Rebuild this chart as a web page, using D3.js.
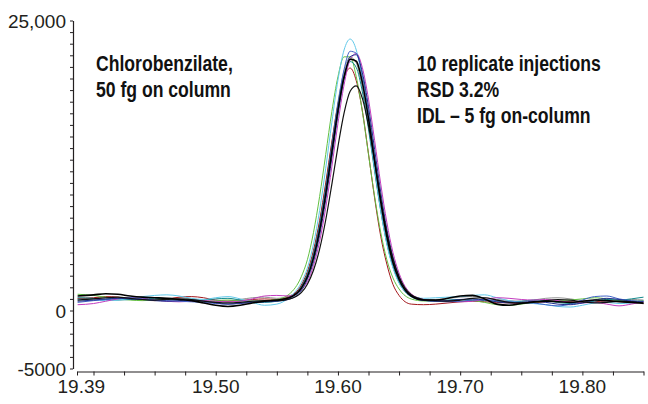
<!DOCTYPE html>
<html>
<head>
<meta charset="utf-8">
<script src="https://cdn.jsdelivr.net/npm/d3@7"></script>
<style>
  body { margin: 0; background: #fff; }
  .axis text { font-family: "Liberation Sans", Arial, sans-serif; font-size: 19px; fill: #231f20; }
  .note { font-family: "Liberation Sans", Arial, sans-serif; font-weight: bold; font-size: 22px; fill: #111; }
</style>
</head>
<body>
<div id="chart"></div>
<script>
// retention time (min), shared by all 10 injections
const times = [19.387, 19.40, 19.41, 19.42, 19.43, 19.44, 19.45, 19.46, 19.47, 19.48, 19.49, 19.50, 19.51, 19.52, 19.53, 19.54, 19.55,
  19.56, 19.57,
  19.575, 19.58, 19.585, 19.59, 19.595, 19.60, 19.605, 19.61, 19.615, 19.62, 19.625, 19.63, 19.635, 19.64, 19.645, 19.65,
  19.66, 19.67,
  19.68, 19.69, 19.70, 19.71, 19.72, 19.73, 19.74, 19.75, 19.76, 19.77, 19.78, 19.79, 19.80, 19.81, 19.82, 19.83, 19.84, 19.85];

// abundance per injection
const gray = [1000, 1050, 1100, 1050, 950, 900, 950, 1050, 1100, 1000, 850, 750, 800, 950, 1100, 1150, 1050,
  1250, 2130,
  3189, 4953, 7515, 10770, 14466, 17973, 20640, 21858, 21333, 19191, 15915, 12219, 8733, 5877, 3819, 2454,
  1240, 950,
  950, 1050, 1150, 1200, 1100, 950, 850, 800, 900, 1050, 1100, 1000, 850, 750, 800, 900, 950, 900];
const darkred = [1050, 1100, 1200, 1150, 1000, 900, 850, 950, 1150, 1200, 1100, 900, 800, 850, 950, 1000, 950,
  1180, 2200,
  3360, 5200, 7760, 11000, 14520, 17760, 20060, 20900, 19800, 17200, 13500, 9700, 6400, 4000, 2250, 1300,
  550, 500,
  550, 650, 750, 800, 750, 700, 650, 600, 650, 750, 800, 750, 700, 750, 850, 800, 700, 650];
const green = [1400, 1300, 1150, 1000, 900, 850, 900, 950, 900, 850, 800, 850, 900, 850, 800, 850, 950,
  1395, 2910,
  4377, 6730, 9825, 13450, 17139, 20150, 21867, 21867, 20150, 17139, 13450, 9825, 6730, 4377, 2808, 1854,
  990, 820,
  800, 850, 900, 850, 700, 500, 450, 550, 700, 800, 850, 900, 1000, 1100, 1000, 850, 800, 850];
const teal = [1100, 1050, 950, 900, 950, 1000, 1050, 1000, 900, 850, 900, 1000, 1050, 900, 750, 700, 800,
  1100, 2050,
  3145, 4876, 7389, 10582, 14208, 17648, 20264, 21459, 20944, 18843, 15629, 12003, 8584, 5782, 3763, 2424,
  1180, 890,
  850, 900, 950, 900, 850, 800, 750, 800, 900, 850, 700, 600, 650, 800, 950, 900, 1000, 1150];
const cyan = [950, 900, 850, 900, 1050, 1200, 1300, 1350, 1250, 1050, 950, 1100, 1200, 1000, 700, 450, 550,
  1115, 2410,
  3668, 5738, 8618, 12263, 16223, 19868, 22455, 23400, 22455, 19868, 16223, 12263, 8618, 5738, 3668, 2363,
  1315, 1050,
  1100, 1150, 1200, 1300, 1350, 1100, 850, 700, 600, 500, 350, 300, 450, 650, 700, 600, 650, 800];
const magenta = [500, 600, 800, 1000, 1100, 1050, 900, 800, 750, 800, 850, 800, 750, 800, 1000, 1250, 1300,
  1250, 1790,
  2476, 3861, 5948, 8845, 12381, 16130, 19452, 21625, 22157, 20922, 18217, 14660, 10911, 7610, 5011, 3222,
  1425, 957,
  850, 800, 750, 800, 950, 1100, 1050, 950, 900, 950, 850, 700, 650, 700, 550, 400, 550, 750];
const blue = [700, 850, 950, 1050, 1100, 1000, 900, 850, 800, 750, 700, 600, 550, 650, 750, 800, 850,
  1060, 1910,
  2974, 4658, 7099, 10339, 14076, 17791, 20772, 22349, 22176, 20254, 17078, 13320, 9648, 6559, 4248, 2736,
  1210, 865,
  800, 750, 800, 900, 950, 850, 750, 700, 650, 500, 400, 550, 900, 1200, 1250, 1000, 850, 800];
const navy = [800, 900, 1000, 1050, 1000, 950, 850, 800, 850, 900, 800, 650, 550, 600, 700, 750, 800,
  970, 1700,
  2711, 4202, 6481, 9527, 13148, 16854, 19985, 21881, 22051, 20496, 17557, 13893, 10208, 7013, 4606, 2945,
  1290, 885,
  800, 850, 950, 1000, 900, 750, 650, 700, 800, 700, 550, 500, 650, 900, 1050, 950, 800, 750];
const black2 = [900, 1000, 1100, 1150, 1050, 950, 900, 950, 1000, 950, 800, 700, 650, 700, 800, 850, 850,
  980, 1535,
  2269, 3472, 5285, 7801, 10872, 14128, 17014, 18901, 19363, 18290, 15941, 12851, 9595, 6728, 4471, 2917,
  1350, 940,
  850, 800, 900, 1050, 1100, 900, 700, 650, 700, 850, 950, 900, 750, 650, 700, 800, 750, 600];
const black1 = [1250, 1350, 1450, 1400, 1250, 1150, 1100, 1050, 950, 850, 650, 450, 350, 450, 650, 800, 900,
  1100, 1920,
  2906, 4537, 6898, 10033, 13649, 17244, 20128, 21654, 21487, 19626, 16554, 12918, 9365, 6376, 4140, 2677,
  1250, 910,
  900, 1050, 1250, 1300, 1000, 550, 450, 600, 750, 800, 750, 700, 800, 900, 850, 750, 700, 650];

const yTickValues = [-5000, 0, 25000];
const yTickLabels = ["-5000", "0", "25,000"];
const xTickValues = [19.39, 19.50, 19.60, 19.70, 19.80];
const xTickLabels = ["19.39", "19.50", "19.60", "19.70", "19.80"];

const runs = [
  { values: gray, color: "#939393", width: 1 },
  { values: darkred, color: "#a3161b", width: 1 },
  { values: green, color: "#63c142", width: 1 },
  { values: teal, color: "#12898c", width: 1 },
  { values: cyan, color: "#62c9ea", width: 1 },
  { values: magenta, color: "#c23cbf", width: 1 },
  { values: blue, color: "#4263c6", width: 1 },
  { values: navy, color: "#222f8e", width: 1 },
  { values: black2, color: "#111", width: 1.2 },
  { values: black1, color: "#000", width: 1.6 }
];

const W = 648, H = 404;
const svg = d3.select("#chart").append("svg")
  .attr("width", W)
  .attr("height", H);

const x = d3.scaleLinear().domain([19.3865, 19.85]).range([77, 643.5]);
const y = d3.scaleLinear().domain([-5000, 25000]).range([368.5, 20.5]);

// y axis: minor ticks every 1000, labels only at -5000, 0, 25,000
const yAxis = d3.axisLeft(y)
  .tickValues(d3.range(-5000, 25001, 1000))
  .tickSize(3)
  .tickSizeOuter(0)
  .tickFormat(d => {
    const i = yTickValues.indexOf(d);
    return i >= 0 ? yTickLabels[i] : "";
  });

const gy = svg.append("g")
  .attr("class", "axis")
  .attr("transform", "translate(73,0)")
  .call(yAxis);
gy.selectAll("line").attr("stroke", "#231f20");
gy.select(".domain").attr("stroke", "#231f20").attr("stroke-width", 1.2);
gy.selectAll("text").attr("x", -7).attr("dy", "0.35em");

// x axis: ticks every 0.025 min
const xMinor = [x.domain()[0]].concat(d3.range(0, 19).map(i => 19.40 + i * 0.025));
const gx = svg.append("g")
  .attr("class", "axis")
  .attr("transform", "translate(0,371.5)")
  .call(d3.axisBottom(x).tickValues(xMinor).tickSize(4).tickSizeOuter(0).tickFormat(""));
gx.selectAll("line").attr("stroke", "#231f20");
gx.select(".domain").attr("stroke", "#231f20").attr("stroke-width", 1.2);

gx.selectAll(".xlab")
  .data(xTickValues)
  .enter()
  .append("text")
  .attr("class", "xlab")
  .attr("x", d => x(d))
  .attr("y", 21)
  .attr("text-anchor", "middle")
  .text((d, i) => xTickLabels[i]);

// traces
const line = d3.line()
  .x((d, i) => x(times[i]))
  .y(d => y(d))
  .curve(d3.curveMonotoneX);

svg.append("g")
  .selectAll("path")
  .data(runs)
  .enter()
  .append("path")
  .attr("d", r => line(r.values))
  .attr("fill", "none")
  .attr("stroke", r => r.color)
  .attr("stroke-width", r => r.width)
  .attr("stroke-linejoin", "round");

// annotations (condensed bold face, squeezed horizontally)
const leftNote = ["Chlorobenzilate,", "50 fg on column"];
const rightNote = ["10 replicate injections", "RSD 3.2%", "IDL \u2013 5 fg on-column"];

svg.append("g")
  .attr("transform", "translate(96,0) scale(0.8,1)")
  .selectAll("text")
  .data(leftNote)
  .enter()
  .append("text")
  .attr("class", "note")
  .attr("x", 0)
  .attr("y", (d, i) => 71 + i * 26)
  .text(d => d);

svg.append("g")
  .attr("transform", "translate(417,0) scale(0.8,1)")
  .selectAll("text")
  .data(rightNote)
  .enter()
  .append("text")
  .attr("class", "note")
  .attr("x", 0)
  .attr("y", (d, i) => 71 + i * 26)
  .text(d => d);
</script>
</body>
</html>
